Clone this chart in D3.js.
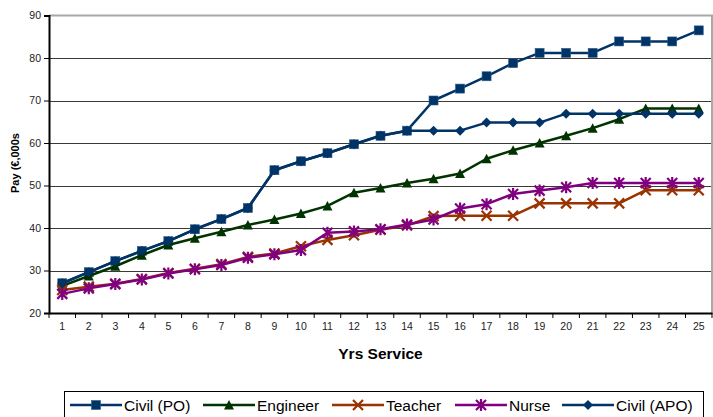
<!DOCTYPE html>
<html>
<head>
<meta charset="utf-8">
<script src="https://cdn.jsdelivr.net/npm/d3@7"></script>
<style>
  body { margin: 0; background: #fff; }
  svg { display: block; font-family: "Liberation Sans", Arial, sans-serif; }
</style>
</head>
<body>
<div id="chart"></div>
<script>
// years of service 1..25
var years = d3.range(1, 26);
var yTicks = [20, 30, 40, 50, 60, 70, 80, 90];

var civilPO = [27.0, 29.6, 32.2, 34.6, 36.9, 39.7, 42.1, 44.7, 53.6, 55.7, 57.6, 59.7, 61.7, 62.9, 70.0, 72.8, 75.7, 78.8, 81.2, 81.2, 81.2, 83.9, 83.9, 83.9, 86.5];
var engineer = [26.4, 28.7, 31.0, 33.6, 36.0, 37.6, 39.1, 40.7, 42.0, 43.4, 45.2, 48.3, 49.4, 50.6, 51.6, 52.8, 56.3, 58.3, 60.0, 61.7, 63.5, 65.6, 68.1, 68.1, 68.1];
var teacher = [25.4, 26.2, 26.9, 28.0, 29.4, 30.4, 31.5, 33.2, 34.0, 35.7, 37.2, 38.3, 39.6, 40.6, 42.8, 42.9, 42.9, 42.9, 45.8, 45.8, 45.8, 45.8, 48.9, 48.9, 48.9];
var nurse = [24.5, 25.8, 26.8, 27.9, 29.3, 30.3, 31.3, 33.0, 33.8, 34.8, 38.9, 39.2, 39.7, 40.8, 42.0, 44.6, 45.6, 48.0, 48.8, 49.6, 50.6, 50.6, 50.6, 50.6, 50.6];
var civilAPO = [27.0, 29.6, 32.2, 34.6, 36.9, 39.7, 42.1, 44.7, 44.7, 44.7, 46.7, 49.3, 51.7, 62.9, 62.9, 62.9, 64.8, 64.8, 64.8, 66.9, 66.9, 66.9, 66.9, 66.9, 66.9];
// APO follows the PO scale up to year 14
for (var k = 0; k < 14; k++) civilAPO[k] = civilPO[k];

var series = [
  { name: "Civil (PO)", values: civilPO, color: "#003366", marker: "square" },
  { name: "Engineer", values: engineer, color: "#003300", marker: "triangle" },
  { name: "Teacher", values: teacher, color: "#993300", marker: "cross" },
  { name: "Nurse", values: nurse, color: "#800080", marker: "star" },
  { name: "Civil (APO)", values: civilAPO, color: "#003366", marker: "diamond" }
];

var width = 713, height = 417;
var plot = { left: 49, right: 712, top: 15.5, bottom: 313 };

var svg = d3.select("#chart").append("svg")
  .attr("width", width)
  .attr("height", height);

var x = d3.scaleBand()
  .domain(years)
  .range([plot.left, plot.right]);
var y = d3.scaleLinear()
  .domain([20, 90])
  .range([plot.bottom, plot.top]);

// gridlines
svg.append("g")
  .selectAll("line")
  .data(yTicks.slice(1, -1))
  .enter().append("line")
  .attr("x1", plot.left).attr("x2", plot.right)
  .attr("y1", function (d) { return Math.round(y(d)) + 0.5; })
  .attr("y2", function (d) { return Math.round(y(d)) + 0.5; })
  .attr("stroke", "#3a3a3a")
  .attr("stroke-width", 1);

// top / right border
svg.append("path")
  .attr("d", "M" + plot.left + "," + plot.top + "H" + plot.right + "V" + plot.bottom)
  .attr("fill", "none")
  .attr("stroke", "#a8a8a8")
  .attr("stroke-width", 2);

// y axis
var yAxis = svg.append("g")
  .attr("transform", "translate(" + plot.left + ",0)")
  .call(d3.axisLeft(y).tickValues(yTicks).tickSize(5).tickPadding(3));
yAxis.select(".domain").attr("stroke", "#000").attr("stroke-width", 2);
yAxis.selectAll(".tick line").attr("stroke", "#000");
yAxis.selectAll("text").attr("font-size", "10.5px").attr("fill", "#222")
  .attr("font-family", "Liberation Sans, Arial, sans-serif");

// x axis: ticks on the band edges
var xAxis = svg.append("g")
  .attr("transform", "translate(0," + plot.bottom + ")")
  .call(d3.axisBottom(x).tickSize(0).tickPadding(10));
xAxis.select(".domain").attr("stroke", "#000").attr("stroke-width", 2);
xAxis.selectAll("text").attr("font-size", "10.5px").attr("fill", "#222")
  .attr("font-family", "Liberation Sans, Arial, sans-serif");
xAxis.selectAll(".edge")
  .data(d3.range(26))
  .enter().append("line")
  .attr("class", "edge")
  .attr("x1", function (i) { return plot.left + i * x.step(); })
  .attr("x2", function (i) { return plot.left + i * x.step(); })
  .attr("y1", 0).attr("y2", 5)
  .attr("stroke", "#000");

// axis titles
svg.append("text")
  .attr("x", (plot.left + plot.right) / 2)
  .attr("y", 359)
  .attr("text-anchor", "middle")
  .attr("font-weight", "bold")
  .attr("font-size", "15.5px")
  .text("Yrs Service");

svg.append("text")
  .attr("transform", "translate(19,163) rotate(-90)")
  .attr("text-anchor", "middle")
  .attr("font-weight", "bold")
  .attr("font-size", "11px")
  .text("Pay (€,000s");

function cx(i) { return x(years[i]) + x.bandwidth() / 2; }

function drawMarker(g, type, color) {
  if (type === "square") {
    g.append("rect").attr("x", -4.5).attr("y", -4.5).attr("width", 9).attr("height", 9)
      .attr("fill", color).attr("stroke", "#2a5a8a").attr("stroke-width", 0.6);
  } else if (type === "triangle") {
    g.append("path").attr("d", "M0,-5L5,4.5H-5Z").attr("fill", color);
  } else if (type === "diamond") {
    g.append("path").attr("d", "M0,-5L5,0L0,5L-5,0Z").attr("fill", color);
  } else if (type === "cross") {
    g.append("path").attr("d", "M-5,-5L5,5M5,-5L-5,5")
      .attr("stroke", color).attr("stroke-width", 2.2).attr("fill", "none");
  } else if (type === "star") {
    g.append("path").attr("d", "M-5,-5L5,5M5,-5L-5,5M0,-6V6")
      .attr("stroke", color).attr("stroke-width", 2.2).attr("fill", "none");
  }
}

var line = d3.line()
  .x(function (d, i) { return cx(i); })
  .y(function (d) { return y(d); });

series.forEach(function (s) {
  var g = svg.append("g");
  g.append("path")
    .attr("d", line(s.values))
    .attr("fill", "none")
    .attr("stroke", s.color)
    .attr("stroke-width", 2.5)
    .attr("stroke-linejoin", "round");
  s.values.forEach(function (v, i) {
    var m = g.append("g").attr("transform", "translate(" + cx(i) + "," + y(v) + ")");
    drawMarker(m, s.marker, s.color);
  });
});

// legend
var legend = svg.append("g");
legend.append("rect")
  .attr("x", 64.5).attr("y", 391.5)
  .attr("width", 639).attr("height", 40)
  .attr("fill", "#fff").attr("stroke", "#000").attr("stroke-width", 1);

var legendX = [70, 203, 332, 455, 562];
series.forEach(function (s, i) {
  var lg = legend.append("g").attr("transform", "translate(" + legendX[i] + ",405)");
  lg.append("line").attr("x1", 0).attr("x2", 52).attr("y1", 0).attr("y2", 0)
    .attr("stroke", s.color).attr("stroke-width", 2.5);
  var m = lg.append("g").attr("transform", "translate(26,0)");
  drawMarker(m, s.marker, s.color);
  lg.append("text")
    .attr("x", 54).attr("y", 5.5)
    .attr("font-size", "15.5px")
    .text(s.name);
});
</script>
</body>
</html>
